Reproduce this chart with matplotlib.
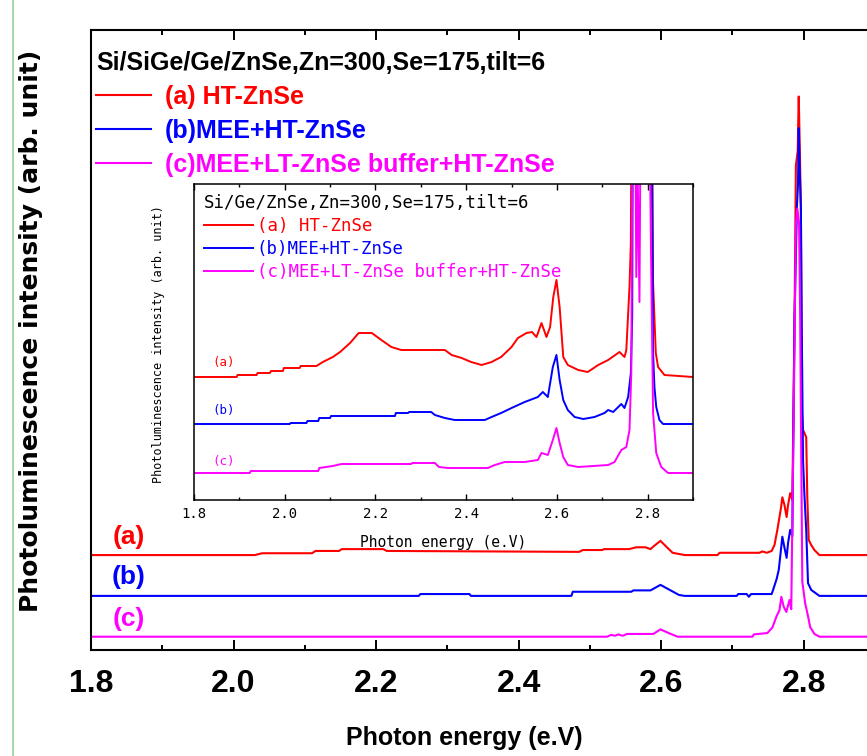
import matplotlib
matplotlib.use('Agg')
import matplotlib.pyplot as plt
from matplotlib.ticker import MultipleLocator

# main panel: PL spectra (arb. unit, above each curve's own baseline)
main_e_a = [1.800, 2.030, 2.040, 2.110, 2.115, 2.148, 2.152, 2.210, 2.215, 2.485,
            2.490, 2.517, 2.520, 2.555, 2.565, 2.578, 2.585, 2.590, 2.599, 2.608,
            2.616, 2.633, 2.679, 2.682, 2.738, 2.742, 2.748, 2.755, 2.759, 2.763,
            2.768, 2.770, 2.773, 2.776, 2.778, 2.781, 2.784, 2.787, 2.789, 2.7915,
            2.793, 2.7945, 2.796, 2.7975, 2.799, 2.8035, 2.805, 2.807, 2.8105, 2.815,
            2.822, 2.900]
main_i_a = [0.0, 0.0, 0.4, 0.4, 0.9, 0.9, 1.3, 1.3, 0.9, 0.7,
            1.1, 1.1, 1.3, 1.3, 1.7, 1.7, 1.3, 2.0, 3.1, 1.7,
            0.5, 0.0, 0.0, 0.5, 0.5, 0.8, 0.5, 0.9, 2.2, 5.5,
            10.2, 12.6, 10.9, 8.3, 10.9, 13.5, 12.0, 49.0, 85.0, 88.0,
            100.0, 88.7, 75.9, 31.0, 27.3, 25.7, 12.6, 3.3, 2.2, 1.1,
            0.0, 0.0]

main_e_b = [1.800, 2.260, 2.262, 2.331, 2.333, 2.474, 2.476, 2.558, 2.561, 2.585,
            2.599, 2.612, 2.625, 2.633, 2.706, 2.708, 2.720, 2.723, 2.726, 2.755,
            2.757, 2.762, 2.765, 2.770, 2.773, 2.776, 2.778, 2.781, 2.784, 2.787,
            2.7905, 2.792, 2.793, 2.7945, 2.796, 2.797, 2.799, 2.801, 2.8035, 2.806,
            2.8105, 2.822, 2.900]
main_i_b = [0.0, 0.0, 0.4, 0.4, 0.0, 0.0, 0.9, 0.9, 1.2, 1.2,
            2.4, 1.3, 0.2, 0.0, 0.0, 0.4, 0.4, -0.2, 0.4, 0.4,
            1.3, 3.7, 5.7, 12.9, 10.5, 8.3, 11.5, 14.4, 13.0, 60.0,
            85.0, 90.0, 102.0, 92.0, 84.8, 61.9, 29.6, 22.0, 14.4, 2.8,
            1.3, 0.0, 0.0]

main_e_c = [1.800, 2.524, 2.530, 2.535, 2.540, 2.546, 2.552, 2.589, 2.599, 2.612,
            2.623, 2.728, 2.730, 2.749, 2.756, 2.762, 2.766, 2.7686, 2.772, 2.7756,
            2.780, 2.7825, 2.786, 2.789, 2.791, 2.7935, 2.795, 2.7965, 2.798, 2.802,
            2.806, 2.809, 2.815, 2.822, 2.900]
main_i_c = [0.0, 0.0, 0.4, 0.2, 0.5, 0.2, 0.6, 0.6, 1.6, 0.7,
            0.0, 0.0, 0.5, 0.8, 2.0, 4.5, 5.8, 8.7, 6.5, 5.4,
            8.0, 6.0, 50.0, 90.0, 93.4, 90.0, 70.0, 40.0, 12.0, 7.3,
            4.5, 2.1, 0.6, 0.0, 0.0]

# inset: same samples, low-intensity region magnified
in_e_a = [1.800, 1.894, 1.896, 1.938, 1.940, 1.967, 1.970, 1.996, 1.998, 2.033,
          2.035, 2.070, 2.084, 2.106, 2.122, 2.144, 2.163, 2.192, 2.213, 2.235,
          2.257, 2.301, 2.353, 2.368, 2.390, 2.411, 2.434, 2.456, 2.477, 2.500,
          2.514, 2.533, 2.545, 2.555, 2.566, 2.577, 2.585, 2.592, 2.599, 2.606,
          2.614, 2.624, 2.647, 2.668, 2.691, 2.713, 2.738, 2.749, 2.753, 2.760,
          2.763, 2.766, 2.808, 2.812, 2.818, 2.823, 2.837, 2.900]
in_i_a = [0.0, 0.0, 0.2, 0.2, 0.4, 0.4, 0.6, 0.6, 0.9, 0.9,
          1.1, 1.1, 1.5, 2.0, 2.5, 3.4, 4.4, 4.4, 3.7, 3.0,
          2.7, 2.7, 2.7, 2.2, 1.9, 1.5, 1.2, 1.5, 2.0, 3.0,
          3.9, 4.4, 4.5, 4.0, 5.4, 4.0, 5.0, 8.0, 9.7, 7.0,
          2.0, 1.2, 0.7, 0.5, 1.2, 1.7, 2.5, 2.0, 2.7, 9.0,
          13.4, 40.0, 40.0, 9.4, 2.4, 1.0, 0.2, 0.0]

in_e_b = [1.800, 2.011, 2.013, 2.048, 2.050, 2.074, 2.076, 2.100, 2.102, 2.243,
          2.245, 2.272, 2.274, 2.323, 2.331, 2.353, 2.375, 2.441, 2.456, 2.477,
          2.500, 2.529, 2.558, 2.569, 2.580, 2.591, 2.599, 2.606, 2.614, 2.624,
          2.639, 2.658, 2.683, 2.705, 2.713, 2.724, 2.742, 2.749, 2.757, 2.763,
          2.766, 2.768, 2.808, 2.812, 2.815, 2.819, 2.826, 2.834, 2.900]
in_i_b = [0.0, 0.0, 0.1, 0.1, 0.3, 0.3, 0.6, 0.6, 0.8, 0.8,
          1.1, 1.1, 1.2, 1.2, 0.9, 0.6, 0.4, 0.4, 0.7, 1.1,
          1.6, 2.2, 2.7, 3.2, 2.7, 5.7, 6.9, 4.4, 2.4, 1.4,
          0.7, 0.5, 0.7, 1.1, 1.4, 1.2, 2.0, 1.6, 2.7, 5.1,
          10.7, 40.0, 40.0, 7.1, 3.7, 1.7, 0.4, 0.0, 0.0]

in_e_c = [1.800, 1.923, 1.925, 2.074, 2.076, 2.106, 2.125, 2.279, 2.281, 2.331,
          2.340, 2.360, 2.448, 2.463, 2.485, 2.529, 2.558, 2.566, 2.580, 2.591,
          2.599, 2.606, 2.614, 2.624, 2.647, 2.713, 2.727, 2.742, 2.753, 2.760,
          2.764, 2.767, 2.772, 2.775, 2.778, 2.782, 2.785, 2.803, 2.808, 2.812,
          2.819, 2.830, 2.845, 2.900]
in_i_c = [0.0, 0.0, 0.2, 0.2, 0.5, 0.7, 0.9, 0.9, 1.0, 1.0,
          0.6, 0.5, 0.5, 0.8, 1.1, 1.1, 1.3, 2.0, 1.8, 3.3,
          4.5, 3.0, 1.6, 0.8, 0.6, 0.8, 1.1, 2.3, 2.6, 4.3,
          10.0, 40.0, 40.0, 19.6, 30.0, 17.1, 40.0, 40.0, 20.0, 6.0,
          2.0, 0.6, 0.0, 0.0]

labels = ['(a) HT-ZnSe', '(b)MEE+HT-ZnSe', '(c)MEE+LT-ZnSe buffer+HT-ZnSe']
tags = ['(a)', '(b)', '(c)']
colors = ['#ff0000', '#0000ff', '#ff00ff']
main_offsets = [20.7, 11.8, 2.9]
inset_offsets = [12.3, 7.6, 2.7]

plt.rcParams['font.family'] = 'Liberation Sans'

fig = plt.figure(figsize=(8.67, 7.56), dpi=100)

# ---- main panel ----
ax = fig.add_axes([91 / 867, 106 / 756, 784 / 867, 620 / 756])
main_data = [(main_e_a, main_i_a), (main_e_b, main_i_b), (main_e_c, main_i_c)]
handles = []
for (e, i), off, col, lab in zip(main_data, main_offsets, colors, labels):
    line, = ax.plot(e, [v + off for v in i], color=col, lw=1.5, label=lab)
    handles.append(line)

tag_y = [24.6, 15.9, 6.8]
for t, ty, col in zip(tags, tag_y, colors):
    ax.text(1.853, ty, t, color=col, fontsize=19, fontweight='bold',
            ha='center', va='center')

ax.set_xlim(1.8, 2.9)
ax.set_ylim(0, 135.2)
ax.xaxis.set_major_locator(MultipleLocator(0.2))
ax.xaxis.set_minor_locator(MultipleLocator(0.1))
ax.xaxis.set_major_formatter(plt.FormatStrFormatter('%.1f'))
ax.set_yticks([])
ax.tick_params(which='both', direction='in', top=True, bottom=True, width=1.4)
ax.tick_params(which='major', length=7, pad=13.5, labelsize=23)
ax.tick_params(which='minor', length=3.5)
for lbl in ax.get_xticklabels():
    lbl.set_fontweight('bold')
for sp in ax.spines.values():
    sp.set_linewidth(1.5)

ax.set_xlabel('Photon energy (e.V)', fontsize=18, fontweight='bold')
ax.xaxis.set_label_coords(0.476, -0.142)
ax.xaxis.label.set_va('center')
ax.set_ylabel('Photoluminescence intensity (arb. unit)', fontsize=18,
              fontweight='bold', fontfamily='DejaVu Sans')
ax.yaxis.set_label_coords(-0.0765, 0.515)
ax.yaxis.label.set_va('center')

ax.legend(handles=handles, loc='upper left', bbox_to_anchor=(0.0064, 0.966),
          frameon=False, borderpad=0, borderaxespad=0,
          prop={'size': 18, 'weight': 'bold'}, labelcolor='linecolor',
          title='Si/SiGe/Ge/ZnSe,Zn=300,Se=175,tilt=6',
          title_fontproperties={'size': 18, 'weight': 'bold'},
          alignment='left', handlelength=2.2, handletextpad=0.56,
          labelspacing=0.4)

# ---- inset ----
axin = fig.add_axes([194 / 867, 256 / 756, 499 / 867, 316 / 756])
inset_data = [(in_e_a, in_i_a), (in_e_b, in_i_b), (in_e_c, in_i_c)]
in_handles = []
for (e, i), off, col, lab in zip(inset_data, inset_offsets, colors, labels):
    line, = axin.plot(e, [v + off for v in i], color=col, lw=1.4, label=lab)
    in_handles.append(line)

in_tag_y = [13.8, 9.0, 3.9]
for t, ty, col in zip(tags, in_tag_y, colors):
    axin.text(1.866, ty, t, color=col, fontsize=9, fontfamily='DejaVu Sans Mono',
              ha='center', va='center')

axin.set_xlim(1.8, 2.9)
axin.set_ylim(0, 31.6)
axin.xaxis.set_major_locator(MultipleLocator(0.2))
axin.xaxis.set_minor_locator(MultipleLocator(0.1))
axin.xaxis.set_major_formatter(plt.FormatStrFormatter('%.1f'))
axin.set_yticks([])
axin.tick_params(which='both', direction='in', top=True, bottom=True, width=1.0)
axin.tick_params(which='major', length=4.5, pad=5.4, labelsize=10)
axin.tick_params(which='minor', length=2.2)
for lbl in axin.get_xticklabels():
    lbl.set_fontfamily('DejaVu Sans Mono')
for sp in axin.spines.values():
    sp.set_linewidth(1.1)

axin.set_xlabel('Photon energy (e.V)', fontsize=10.5, fontfamily='DejaVu Sans Mono')
axin.xaxis.set_label_coords(0.5, -0.136)
axin.xaxis.label.set_va('center')
axin.set_ylabel('Photoluminescence intensity (arb. unit)', fontsize=8.5,
                fontfamily='DejaVu Sans Mono')
axin.yaxis.set_label_coords(-0.072, 0.494)
axin.yaxis.label.set_va('center')

axin.legend(handles=in_handles, loc='upper left', bbox_to_anchor=(0.02, 0.969),
            frameon=False, borderpad=0, borderaxespad=0,
            prop={'size': 12.5, 'family': 'DejaVu Sans Mono'}, labelcolor='linecolor',
            title='Si/Ge/ZnSe,Zn=300,Se=175,tilt=6',
            title_fontproperties={'size': 12.5, 'family': 'DejaVu Sans Mono'},
            alignment='left', handlelength=2.8, handletextpad=0.24,
            labelspacing=0.3)

# thin green border at the left edge of the original screenshot
fig.add_artist(plt.Line2D([12.5 / 867, 12.5 / 867], [0, 1], transform=fig.transFigure,
                          color='#a8d8a8', lw=1.5))

fig.savefig('out.png', dpi=100)
